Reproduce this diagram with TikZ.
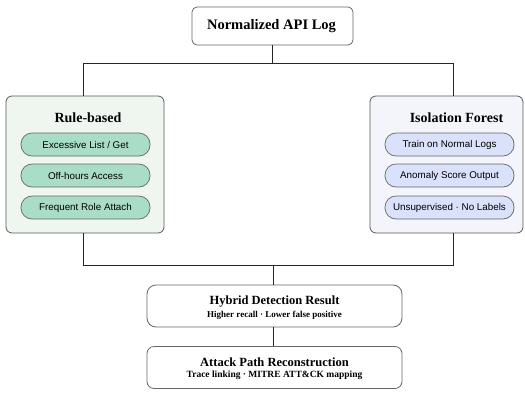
\documentclass[tikz,border=0pt]{standalone}
\usepackage{fontspec}
\setmainfont{Liberation Serif}
\setsansfont{Liberation Sans}
\begin{document}
\begin{tikzpicture}[x=1pt,y=-1pt,
  box/.style={draw=black!60, line width=0.8pt, rounded corners=6pt, fill=white},
  panelL/.style={draw=black!65, line width=0.8pt, rounded corners=6pt, fill={rgb,255:red,239;green,246;blue,240}},
  panelR/.style={draw=black!65, line width=0.8pt, rounded corners=6pt, fill={rgb,255:red,244;green,245;blue,251}},
  pillL/.style={draw=black!60, line width=0.7pt, rounded corners=11pt, fill={rgb,255:red,170;green,221;blue,198}, minimum width=129pt, minimum height=23pt, inner sep=0pt, font=\sffamily\fontsize{9.8}{11}\selectfont},
  pillR/.style={draw=black!60, line width=0.7pt, rounded corners=11pt, fill={rgb,255:red,218;green,225;blue,250}, minimum width=129pt, minimum height=23pt, inner sep=0pt, font=\sffamily\fontsize{9.8}{11}\selectfont},
  ttl/.style={font=\bfseries\fontsize{14}{16}\selectfont, inner sep=0pt},
  bttl/.style={font=\bfseries\fontsize{12.5}{14}\selectfont, inner sep=0pt},
  conn/.style={draw=black!85, line width=0.8pt}
]
\useasboundingbox (0,0) rectangle (525,392);

\node[box, minimum width=161pt, minimum height=38pt, rounded corners=5pt] (top) at (272.5,26) {};
\node[ttl, font=\bfseries\fontsize{14.5}{16}\selectfont] (toptxt) at (271.5,26) {Normalized API Log};

\node[panelL, minimum width=158pt, minimum height=137pt] (lbox) at (85,164.5) {};
\node[ttl] (ltitle) at (88,118) {Rule-based};
\node[pillL] (l1) at (85.5,144.5) {Excessive List / Get};
\node[pillL] (l2) at (85.5,175.5) {Off-hours Access};
\node[pillL] (l3) at (85.5,207.5) {Frequent Role Attach};

\node[panelR, minimum width=153pt, minimum height=137pt] (rbox) at (446.5,164.5) {};
\node[ttl] (rtitle) at (456.5,118) {Isolation Forest};
\node[pillR] (r1) at (449.5,144.5) {Train on Normal Logs};
\node[pillR] (r2) at (449.5,175.5) {Anomaly Score Output};
\node[pillR] (r3) at (449.5,207.5) {Unsupervised · No Labels};

\node[box, minimum width=255pt, minimum height=42pt, rounded corners=9pt] (hyb) at (274.5,306) {};
\node[bttl] (hybt) at (274.5,302) {Hybrid Detection Result};
\node[font=\bfseries\fontsize{9}{10}\selectfont, inner sep=0pt] (hybs) at (274.5,315.5) {Higher recall · Lower false positive};

\node[box, minimum width=255pt, minimum height=42pt, rounded corners=7pt] (atk) at (274.5,367.5) {};
\node[bttl] (atkt) at (274.5,362.5) {Attack Path Reconstruction};
\node[font=\bfseries\fontsize{9.5}{10}\selectfont, inner sep=0pt] (atks) at (274.5,375.5) {Trace linking · MITRE ATT\&CK mapping};

\coordinate (lt) at (83,63);
\coordinate (rt) at (453,63);
\coordinate (lb) at (83,265);
\coordinate (rb) at (453,265);

\draw[conn] (top.south) |- (lt);
\draw[conn] (top.south) |- (rt);
\draw[conn] (lt) -- (lt |- lbox.north);
\draw[conn] (rt) -- (rt |- rbox.north);
\draw[conn] (lt |- lbox.south) -- (lb) -- (rb) -- (rt |- rbox.south);
\draw[conn] (hyb.north -| 273,0) -- (273,265);
\draw[conn] (hyb.south -| 273,0) -- (atk.north -| 273,0);
\end{tikzpicture}
\end{document}
